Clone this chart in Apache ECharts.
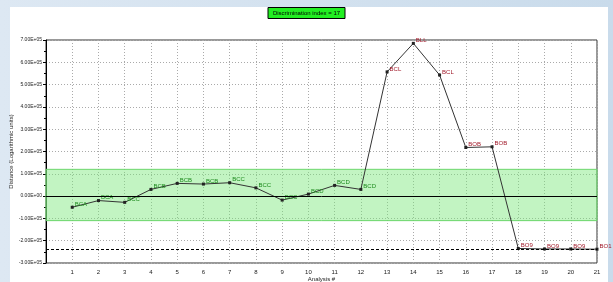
<!DOCTYPE html>
<html>
<head>
<meta charset="utf-8">
<script src="https://cdn.jsdelivr.net/npm/echarts@6/dist/echarts.min.js"></script>
<style>
  html, body { margin: 0; padding: 0; }
  body {
    width: 613px; height: 282px; overflow: hidden; position: relative;
    background: linear-gradient(to right, #dde8f3, #c9dbeb);
  }
  #panel { position: absolute; left: 10px; top: 7px; width: 598px; height: 275px; background: #fff; }
  #main { position: absolute; left: 0; top: 0; width: 613px; height: 282px; }
</style>
</head>
<body>
<div id="panel"></div>
<div id="main"></div>
<script>
const analysis = [1, 2, 3, 4, 5, 6, 7, 8, 9, 10, 11, 12, 13, 14, 15, 16, 17, 18, 19, 20, 21];
const distance = [-50000, -20000, -28000, 30000, 57000, 54000, 60000, 37000, -18000, 9000, 48000, 30000,
  557000, 685000, 543000, 218000, 221000, -235000, -237000, -237000, -238000];
const pointLabels = ["BCA", "BCA", "BCC", "BCB", "BCB", "BCB", "BCC", "BCC", "BCC", "BCD", "BCD", "BCD",
  "BCL", "BLL", "BCL", "BOB", "BOB", "BO9", "BO9", "BO9", "BO1"];
const yTicks = [-300000, -200000, -100000, 0, 100000, 200000, 300000, 400000, 500000, 600000, 700000];
const yTickLabels = ["-3.00E+05", "-2.00E+05", "-1.00E+05", "0.00E+00", "1.00E+05", "2.00E+05",
  "3.00E+05", "4.00E+05", "5.00E+05", "6.00E+05", "7.00E+05"];
const band = [-110000, 120000];
const cutoff = -240000;
const titleText = "Discrimination index = 17";

const chart = echarts.init(document.getElementById("main"));

const points = analysis.map((a, i) => ({
  value: [a, distance[i]],
  label: { color: i < 12 ? "#1c8a1c" : "#a01828" },
}));

chart.setOption({
  backgroundColor: "transparent",
  animation: false,
  textStyle: { fontFamily: "Liberation Sans" },
  title: {
    text: titleText,
    left: "center",
    top: 7,
    padding: [3, 5],
    backgroundColor: "#22ee22",
    borderColor: "#000",
    borderWidth: 1,
    textStyle: { fontSize: 6, fontWeight: "normal", color: "#000" },
  },
  grid: {
    left: 46,
    right: 16,
    top: 40,
    bottom: 19,
    outerBoundsMode: "none",
    show: true,
    backgroundColor: "transparent",
    borderColor: "#333",
    borderWidth: 1,
  },
  xAxis: {
    type: "value",
    min: 0,
    max: 21,
    interval: 1,
    name: "Analysis #",
    nameLocation: "middle",
    nameGap: 13,
    nameMoveOverlap: false,
    nameTextStyle: { fontSize: 6, color: "#222" },
    axisLine: { show: false },
    axisTick: { show: false },
    axisLabel: {
      fontSize: 6,
      color: "#222",
      margin: 6,
      formatter: (v) => (analysis.indexOf(v) >= 0 ? String(v) : ""),
    },
    splitLine: { lineStyle: { color: "#aaa", type: [1, 2] } },
  },
  yAxis: {
    type: "value",
    min: -300000,
    max: 700000,
    interval: 100000,
    name: "Distance (Logarithmic units)",
    nameLocation: "middle",
    nameGap: 32,
    nameMoveOverlap: false,
    nameTextStyle: { fontSize: 6, color: "#222" },
    axisLine: { show: true, lineStyle: { color: "#000" } },
    axisTick: { show: true, length: 3, lineStyle: { color: "#000" } },
    minorTick: { show: true, splitNumber: 2, length: 2, lineStyle: { color: "#000" } },
    axisLabel: {
      fontSize: 5,
      color: "#222",
      margin: 4,
      formatter: (v) => {
        const i = yTicks.indexOf(v);
        return i >= 0 ? yTickLabels[i] : "";
      },
    },
    splitLine: { lineStyle: { color: "#aaa", type: [1, 2] } },
  },
  series: [
    {
      type: "line",
      data: points,
      symbol: "rect",
      symbolSize: 3,
      itemStyle: { color: "#222" },
      lineStyle: { color: "#333", width: 1 },
      label: {
        show: true,
        position: "right",
        distance: 1,
        offset: [0, -3],
        fontSize: 6,
        formatter: (p) => pointLabels[p.dataIndex],
      },
      markArea: {
        silent: true,
        itemStyle: {
          color: "rgba(120, 230, 120, 0.45)",
          borderColor: "#6cd66c",
          borderWidth: 1,
        },
        data: [[{ yAxis: band[0] }, { yAxis: band[1] }]],
      },
      markLine: {
        silent: true,
        symbol: "none",
        label: { show: false },
        data: [
          { yAxis: 0, lineStyle: { color: "#000", type: "solid", width: 1 } },
          { yAxis: cutoff, lineStyle: { color: "#000", type: [3, 2], width: 1 } },
        ],
      },
    },
  ],
});
</script>
</body>
</html>
